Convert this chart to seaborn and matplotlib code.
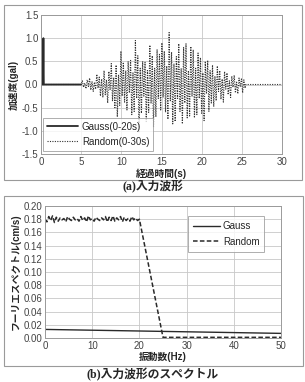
import numpy as np
import pandas as pd
import matplotlib
matplotlib.use('Agg')
import matplotlib.pyplot as plt
from matplotlib.patches import Rectangle
import seaborn as sns

# ========== データ ==========
# (a) 入力波形: Random は 5s から 0.15s 刻み
wave_t0 = 5.0
wave_dt = 0.15
random_wave = [
    0.0, 0.08, -0.06, 0.03, -0.09, 0.10, -0.04, 0.14, -0.12, 0.06,
    -0.15, 0.05, -0.10, 0.22, -0.08, 0.16, -0.25, 0.12, -0.28, 0.30,
    -0.22, 0.10, -0.40, 0.28, -0.12, 0.45, -0.35, 0.15, -0.50, 0.42,
    -0.70, 0.20, -0.45, 0.72, -0.25, 0.48, -0.38, 0.30, -0.55, 0.50,
    -0.18, 0.52, -0.65, 0.25, -0.58, 0.95, -0.30, 0.62, -1.02, 0.35,
    -0.62, 0.50, -0.25, 0.48, -0.80, 0.30, -0.60, 0.85, -0.40, 0.62,
    -0.92, 0.35, -0.70, 0.75, -0.30, 0.65, -0.55, 0.90, -0.28, 0.72,
    -0.60, 0.40, -0.75, 1.12, -0.35, 0.70, -0.85, 0.45, -0.80, 0.60,
    -0.30, 0.88, -0.58, 0.35, -0.85, 0.80, -0.40, 0.88, -0.72, 0.30,
    -0.68, 0.82, -0.25, 0.75, -0.72, 0.35, -0.65, 0.68, -0.30, 0.58,
    -0.62, 0.25, -0.78, 0.50, -0.20, 0.52, -0.58, 0.30, -0.40, 0.42,
    -0.48, 0.18, -0.35, 0.40, -0.15, 0.30, -0.32, 0.12, -0.38, 0.28,
    -0.10, 0.25, -0.22, 0.08, -0.28, 0.18, -0.06, 0.20, -0.18, 0.05,
    -0.20, 0.14, -0.05, 0.12, -0.18, 0.10, -0.08,
]
random_tail_t = [25.5, 30.0]
random_tail_v = [0.0, 0.0]
gauss_t = [0.0, 0.25, 0.3, 0.35, 5.0]
gauss_v = [0.0, 0.0, 1.0, 0.0, 0.0]

# (b) スペクトル: Random は 0-20Hz を 0.4Hz 刻み
spec_df = 0.4
random_spec = [
    0.180, 0.176, 0.184, 0.178, 0.185, 0.175, 0.183, 0.177, 0.182, 0.179,
    0.181, 0.176, 0.184, 0.180, 0.178, 0.183, 0.179, 0.181, 0.177, 0.184,
    0.178, 0.182, 0.176, 0.185, 0.179, 0.181, 0.177, 0.183, 0.180, 0.178,
    0.182, 0.179, 0.184, 0.176, 0.183, 0.178, 0.185, 0.177, 0.182, 0.179,
    0.184, 0.176, 0.183, 0.178, 0.181, 0.177, 0.184, 0.179, 0.182, 0.178,
    0.180,
]
random_spec_tail_f = [25.0, 50.0]
random_spec_tail_v = [0.001, 0.001]
gauss_spec_f = [0.0, 25.0, 50.0]
gauss_spec_v = [0.013, 0.010, 0.007]

# ========== スタイル ==========
sns.set_style('whitegrid')
plt.rcParams['font.family'] = ['Liberation Sans', 'Noto Sans CJK JP']
plt.rcParams['axes.unicode_minus'] = False

grid_c = '#c8c8c8'
frame_c = '#9a9a9a'
line_c = '#2a2a2a'
cap_font = ['Liberation Serif', 'Noto Sans CJK JP']

fig = plt.figure(figsize=(3.05, 3.82), dpi=100)

# 外枠
fig.patches.append(Rectangle((4 / 305, 1 - 180 / 382), 298 / 305, 175 / 382,
                             transform=fig.transFigure, fill=False,
                             edgecolor=frame_c, linewidth=0.8))
fig.patches.append(Rectangle((4 / 305, 1 - 366 / 382), 299 / 305, 170 / 382,
                             transform=fig.transFigure, fill=False,
                             edgecolor=frame_c, linewidth=0.8))

# ========== (a) 入力波形 ==========
ax1 = fig.add_axes([41 / 305, 1 - 154 / 382, 241 / 305, 139 / 382])
wave_t = wave_t0 + wave_dt * np.arange(len(random_wave))
rand_t = np.concatenate([[0.0, wave_t0], wave_t, random_tail_t])
rand_v = np.concatenate([[0.0, 0.0], random_wave, random_tail_v])
df_r = pd.DataFrame({'t': rand_t, 'v': rand_v})
df_g = pd.DataFrame({'t': gauss_t, 'v': gauss_v})

sns.lineplot(data=df_r, x='t', y='v', ax=ax1, color='#333333', lw=0.8,
             linestyle=(0, (1, 1.2)), sort=False, estimator=None,
             label='Random(0-30s)')
sns.lineplot(data=df_g, x='t', y='v', ax=ax1, color=line_c, lw=1.3,
             sort=False, estimator=None, label='Gauss(0-20s)')

ax1.set_xlim(0, 30)
ax1.set_ylim(-1.5, 1.5)
ax1.set_xticks(np.arange(0, 31, 5))
ax1.set_yticks(np.arange(-1.5, 1.51, 0.5))
ax1.set_yticklabels([f'{v:.1f}' for v in np.arange(-1.5, 1.51, 0.5)])
ax1.set_xlabel('経過時間(s)', fontsize=7, fontweight='bold', labelpad=1)
ax1.set_ylabel('加速度(gal)', fontsize=7, fontweight='bold', labelpad=2)
ax1.tick_params(labelsize=7, pad=2, length=0, colors='#444444')
ax1.grid(True, color=grid_c, lw=0.6)
for s in ax1.spines.values():
    s.set_color(frame_c)
    s.set_linewidth(0.7)

h, l = ax1.get_legend_handles_labels()
leg1 = ax1.legend(h[::-1], l[::-1], loc='lower left', fontsize=7, frameon=True,
                  fancybox=False, edgecolor=frame_c, borderpad=0.4,
                  handlelength=3.2, handletextpad=0.4, labelspacing=0.5,
                  bbox_to_anchor=(-0.012, -0.01))
leg1.get_frame().set_linewidth(0.7)

fig.text(0.5, 1 - 187 / 382, '(a)入力波形', ha='center', va='center',
         fontsize=8.5, fontweight='bold', family=cap_font)

# ========== (b) スペクトル ==========
ax2 = fig.add_axes([45 / 305, 1 - 338 / 382, 236 / 305, 132 / 382])
spec_f = spec_df * np.arange(len(random_spec))
rs_f = np.concatenate([spec_f, random_spec_tail_f])
rs_v = np.concatenate([random_spec, random_spec_tail_v])
df_rs = pd.DataFrame({'f': rs_f, 'v': rs_v})
df_gs = pd.DataFrame({'f': gauss_spec_f, 'v': gauss_spec_v})

sns.lineplot(data=df_gs, x='f', y='v', ax=ax2, color=line_c, lw=1.0,
             sort=False, estimator=None, label='Gauss')
sns.lineplot(data=df_rs, x='f', y='v', ax=ax2, color=line_c, lw=1.1,
             linestyle=(0, (3, 1.5)), sort=False, estimator=None,
             label='Random')

ax2.set_xlim(0, 50)
ax2.set_ylim(0, 0.20)
ax2.set_xticks(np.arange(0, 51, 10))
ax2.set_yticks(np.arange(0, 0.201, 0.02))
ax2.set_yticklabels([f'{v:.2f}' for v in np.arange(0, 0.201, 0.02)])
ax2.set_xlabel('振動数(Hz)', fontsize=7, fontweight='bold', labelpad=1)
ax2.set_ylabel('フーリエスペクトル(cm/s)', fontsize=7, fontweight='bold',
               labelpad=2)
ax2.tick_params(labelsize=7, pad=2, length=0, colors='#444444')
ax2.grid(True, color=grid_c, lw=0.6)
for s in ax2.spines.values():
    s.set_color(frame_c)
    s.set_linewidth(0.7)

leg2 = ax2.legend(loc='upper right', fontsize=7, frameon=True,
                  fancybox=False, edgecolor=frame_c, borderpad=0.5,
                  handlelength=2.8, handletextpad=0.3, labelspacing=0.6,
                  bbox_to_anchor=(0.95, 0.96))
leg2.get_frame().set_linewidth(0.7)

fig.text(0.5, 1 - 375 / 382, '(b)入力波形のスペクトル', ha='center',
         va='center', fontsize=8.5, fontweight='bold', family=cap_font)

plt.savefig('out.png', dpi=100)
